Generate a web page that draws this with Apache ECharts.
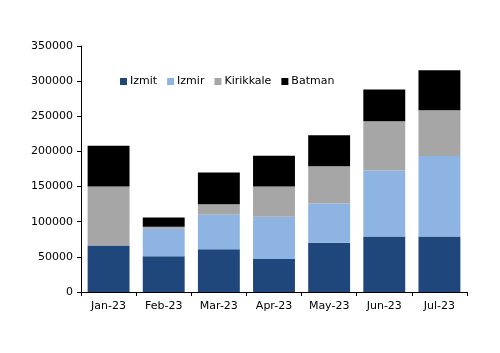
<!DOCTYPE html>
<html>
<head>
<meta charset="utf-8">
<script src="https://cdn.jsdelivr.net/npm/echarts@6/dist/echarts.min.js"></script>
<style>
  html, body { margin: 0; padding: 0; background: #fff; }
  #chart { width: 500px; height: 353px; }
</style>
</head>
<body>
<div id="chart"></div>
<script>
const categories = ['Jan-23', 'Feb-23', 'Mar-23', 'Apr-23', 'May-23', 'Jun-23', 'Jul-23'];
const izmit = [66000, 51000, 61000, 47000, 70000, 79000, 79000];
const izmir = [0, 39000, 49000, 60000, 56000, 94000, 114500];
const kirikkale = [84000, 3000, 15000, 43000, 53000, 70000, 65000];
const batman = [58000, 13000, 45000, 44000, 44000, 45000, 57000];

const font = 'DejaVu Sans';

const chart = echarts.init(document.getElementById('chart'));

function bar(name, data, color) {
  return {
    name: name,
    type: 'bar',
    stack: 'total',
    data: data,
    barCategoryGap: '24%',
    itemStyle: { color: color },
    emphasis: { disabled: true },
  };
}

chart.setOption({
  animation: false,
  legend: {
    left: 115,
    top: 71,
    itemWidth: 7,
    itemHeight: 7,
    itemGap: 10,
    icon: 'rect',
    textStyle: { fontFamily: font, fontSize: 11, color: '#000', padding: [0, 0, 0, -2] },
    data: ['Izmit', 'Izmir', 'Kirikkale', 'Batman'],
  },
  grid: {
    left: 81,
    right: 33,
    top: 46,
    bottom: 61,
  },
  xAxis: {
    type: 'category',
    data: categories,
    axisLine: { lineStyle: { color: '#000', width: 1 } },
    axisTick: { show: true, length: 4, lineStyle: { color: '#000' } },
    axisLabel: { fontFamily: font, fontSize: 11, color: '#000', margin: 9 },
  },
  yAxis: {
    type: 'value',
    min: 0,
    max: 350000,
    interval: 50000,
    splitLine: { show: false },
    axisLine: { show: true, lineStyle: { color: '#000', width: 1 } },
    axisTick: { show: true, length: 4, lineStyle: { color: '#000' } },
    axisLabel: {
      fontFamily: font,
      fontSize: 11,
      color: '#000',
      margin: 8,
      formatter: (v) => String(v),
    },
  },
  series: [
    bar('Izmit', izmit, '#1f477b'),
    bar('Izmir', izmir, '#8eb4e3'),
    bar('Kirikkale', kirikkale, '#a6a6a6'),
    bar('Batman', batman, '#000000'),
  ],
});
</script>
</body>
</html>
